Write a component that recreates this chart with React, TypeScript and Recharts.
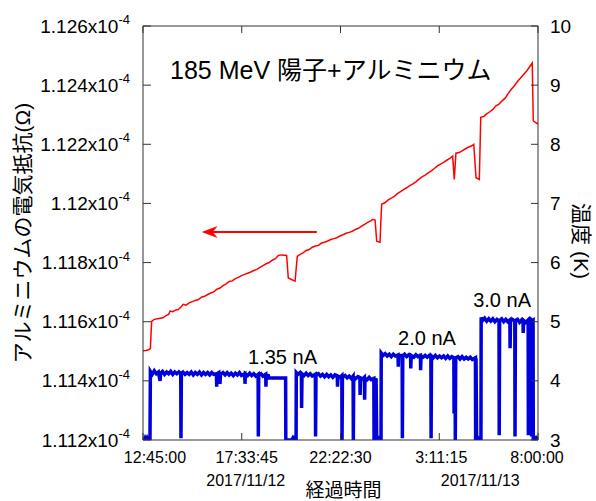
import { LineChart, Line, XAxis, YAxis, ReferenceLine, ReferenceDot } from 'recharts'

const FONT = '"Liberation Sans", Arial, "Noto Sans CJK JP", sans-serif'
const AXIS = '#333'
const RED = '#ff0000'
const BLUE = '#0000dd'

// time in hours after 12:45:00
const TIME_TICKS = [0, 4.8125, 9.625, 14.4375, 19.25]
const TIME_LABELS = ['12:45:00', '17:33:45', '22:22:30', '3:11:15', '8:00:00']
const TIME_DX = [12, 5, 0, 2, -1]
const DATE_LABELS = ['', '2017/11/12', '', '2017/11/13', '']
const DATE_DX = [0, 4, 0, 41, 0]

// resistance, units of 1e-4 ohm
const RES_TICKS = [1.112, 1.114, 1.116, 1.118, 1.12, 1.122, 1.124, 1.126]
const TEMP_TICKS = [3, 4, 5, 6, 7, 8, 9, 10]

const RES_TIME = [
  0, 0.15, 0.3, 0.36, 0.42, 0.55, 0.7, 0.85, 1.0, 1.1, 1.25, 1.32, 1.45, 1.6, 1.72, 1.85, 1.96, 2.1, 2.25, 2.4,
  2.55, 2.7, 2.85, 3.0, 3.15, 3.3, 3.45, 3.6, 3.75, 3.9, 4.05, 4.2, 4.35, 4.5, 4.65, 4.8, 4.95, 5.1, 5.25, 5.4,
  5.55, 5.7, 5.85, 6.0, 6.15, 6.3, 6.45, 6.6, 6.75, 6.9, 7.0, 7.08, 7.41, 7.52, 7.65, 7.8, 7.95, 8.1, 8.25, 8.4,
  8.55, 8.7, 8.85, 9.0, 9.15, 9.3, 9.45, 9.6, 9.75, 9.9, 10.05, 10.2, 10.35, 10.5, 10.65, 10.8, 10.95, 11.1, 11.2, 11.31,
  11.39, 11.55, 11.63, 11.8, 11.95, 12.1, 12.25, 12.4, 12.55, 12.7, 12.85, 13.0, 13.15, 13.3, 13.45, 13.6, 13.75, 13.9, 14.05, 14.2,
  14.35, 14.5, 14.65, 14.8, 14.95, 15.09, 15.17, 15.25, 15.4, 15.55, 15.7, 15.85, 16.0, 16.12, 16.23, 16.39, 16.46, 16.6, 16.75, 16.9,
  17.05, 17.2, 17.35, 17.5, 17.65, 17.8, 17.95, 18.1, 18.25, 18.4, 18.55, 18.7, 18.85, 18.97, 19.02, 19.25,
]
const RES_VALUE = [
  1.11502, 1.11503, 1.11506, 1.1151, 1.11601, 1.11608, 1.1161, 1.11612, 1.11614, 1.1162, 1.11625, 1.11636, 1.11634, 1.1164, 1.11641, 1.1165, 1.11659, 1.11656, 1.11664, 1.11668,
  1.11672, 1.11675, 1.11683, 1.11686, 1.11692, 1.11697, 1.11701, 1.1171, 1.11714, 1.11722, 1.11728, 1.11736, 1.11738, 1.11746, 1.1175, 1.11756, 1.1176, 1.11764, 1.11768, 1.11773,
  1.11777, 1.11784, 1.1179, 1.11796, 1.118, 1.11808, 1.11813, 1.11824, 1.11826, 1.11825, 1.11824, 1.11748, 1.11737, 1.11821, 1.11828, 1.11833, 1.11841, 1.11844, 1.11852, 1.11856,
  1.11858, 1.11866, 1.11869, 1.11873, 1.11878, 1.11881, 1.11884, 1.1189, 1.11894, 1.11899, 1.11902, 1.11906, 1.11912, 1.11916, 1.11923, 1.11929, 1.11936, 1.11941, 1.11946, 1.11944,
  1.11872, 1.11869, 1.11997, 1.12003, 1.12012, 1.12018, 1.12024, 1.12033, 1.1204, 1.12047, 1.12053, 1.1206, 1.12066, 1.12073, 1.12082, 1.1209, 1.12096, 1.12103, 1.1211, 1.12118,
  1.12127, 1.12133, 1.12139, 1.12146, 1.12152, 1.1216, 1.12081, 1.1217, 1.12172, 1.12178, 1.12184, 1.1219, 1.12194, 1.122, 1.12087, 1.12081, 1.12291, 1.12294, 1.12303, 1.1231,
  1.12318, 1.1233, 1.12336, 1.12347, 1.12356, 1.12372, 1.12386, 1.12398, 1.12412, 1.12424, 1.12436, 1.12448, 1.12463, 1.12475, 1.12279, 1.12268,
]

const TEMP_TIME = [
  0, 0.05, 0.1, 0.15, 0.2, 0.25, 0.3, 0.34,
  0.36, 0.45, 0.55, 0.65, 0.75, 0.83, 0.86, 0.95, 1.05, 1.15, 1.25, 1.35, 1.45, 1.55, 1.65, 1.75, 1.84, 1.85, 1.87, 1.95,
  2.05, 2.15, 2.25, 2.35, 2.45, 2.55, 2.65, 2.75, 2.85, 2.95, 3.05, 3.15, 3.25, 3.35, 3.45, 3.58, 3.59, 3.61, 3.7, 3.75,
  3.78, 3.9, 4.0, 4.1, 4.2, 4.3, 4.4, 4.5, 4.6, 4.7, 4.8, 4.96, 4.97, 4.99, 5.1, 5.2, 5.3, 5.4, 5.5, 5.61, 5.62, 5.64,
  5.75, 5.85, 5.98, 5.99, 6.01, 6.11, 6.12, 6.95, 6.96, 7.25, 7.3, 7.35, 7.4, 7.46,
  7.47, 7.55, 7.65, 7.72, 7.73, 7.75, 7.85, 7.95, 8.05, 8.15, 8.25, 8.4, 8.41, 8.43, 8.55, 8.65, 8.75, 8.85, 8.95, 9.05,
  9.15, 9.25, 9.35, 9.47, 9.48, 9.5, 9.6, 9.69, 9.7, 9.72, 9.85, 9.95, 10.05, 10.15, 10.24, 10.25, 10.27, 10.37, 10.47, 10.57,
  10.58, 10.6, 10.7, 10.79, 10.8, 10.82, 10.92, 11.02, 11.12, 11.25, 11.26, 11.28, 11.36, 11.39, 11.45, 11.5, 11.55, 11.6,
  11.61, 11.7, 11.8, 11.9, 12.0, 12.1, 12.2, 12.3, 12.43, 12.44, 12.46, 12.63, 12.64, 12.66, 12.75, 12.85, 12.95, 13.04, 13.05, 13.07,
  13.2, 13.3, 13.4, 13.52, 13.53, 13.55, 13.65, 13.75, 13.85, 13.95, 14.03, 14.04, 14.06, 14.15, 14.25, 14.35, 14.45, 14.55, 14.65, 14.75,
  14.85, 14.95, 15.05, 15.15, 15.16, 15.18, 15.21, 15.22, 15.24, 15.35, 15.45, 15.55, 15.65, 15.75, 15.85, 15.95, 16.05, 16.2, 16.21, 16.23,
  16.26, 16.32, 16.38, 16.43, 16.47,
  16.48, 16.55, 16.65, 16.75, 16.85, 16.95, 17.05, 17.15, 17.25, 17.35, 17.36, 17.38, 17.48, 17.58, 17.68, 17.78, 17.88, 17.89, 17.91, 18.0,
  18.12, 18.13, 18.15, 18.25, 18.35, 18.45, 18.52, 18.53, 18.55, 18.65, 18.77, 18.78, 18.8, 18.88, 18.93, 18.94, 18.96, 19.01, 19.02, 19.08,
  19.13, 19.18, 19.25,
]
const TEMP_VALUE = [
  3.02, 2.99, 3.03, 2.99, 3.03, 2.99, 3.02, 3.0,
  4.16, 4.11, 4.17, 4.12, 4.15, 4.0, 4.13, 4.16, 4.11, 4.15, 4.12, 4.16, 4.11, 4.15, 4.12, 4.15, 4.12, 3.03, 4.13, 4.15,
  4.11, 4.14, 4.11, 4.15, 4.1, 4.14, 4.11, 4.15, 4.1, 4.14, 4.11, 4.14, 4.1, 4.14, 4.11, 4.12, 3.9, 4.12, 4.14, 3.95,
  4.11, 4.14, 4.1, 4.14, 4.1, 4.13, 4.09, 4.13, 4.1, 4.14, 4.09, 4.12, 3.95, 4.12, 4.09, 4.13, 4.09, 4.12, 4.08, 4.11, 3.06, 4.1,
  4.12, 4.08, 4.11, 3.9, 4.1, 4.09, 4.05, 4.05, 3.0, 3.0, 3.03, 2.99, 3.03, 3.0,
  4.14, 4.11, 4.14, 4.1, 3.54, 4.12, 4.09, 4.13, 4.09, 4.12, 4.08, 4.11, 3.06, 4.1, 4.12, 4.08, 4.11, 4.07, 4.11, 4.07,
  4.1, 4.06, 4.1, 4.07, 3.9, 4.08, 4.06, 4.09, 3.0, 4.06, 4.09, 4.05, 4.08, 4.04, 4.08, 3.0, 4.06, 4.04, 4.07, 4.05,
  3.76, 4.05, 4.03, 4.06, 3.68, 4.04, 4.02, 4.06, 4.02, 4.04, 3.0, 4.03, 4.02, 3.0, 3.03, 2.99, 3.03, 3.0,
  4.47, 4.43, 4.46, 4.42, 4.45, 4.41, 4.45, 4.42, 4.44, 4.24, 4.43, 4.43, 3.03, 4.42, 4.45, 4.41, 4.44, 4.41, 4.21, 4.43,
  4.4, 4.44, 4.41, 4.43, 4.18, 4.42, 4.4, 4.43, 4.4, 4.43, 4.41, 3.03, 4.42, 4.39, 4.43, 4.39, 4.42, 4.39, 4.42, 4.38,
  4.42, 4.38, 4.41, 4.39, 3.45, 4.38, 4.4, 3.0, 4.39, 4.41, 4.37, 4.41, 4.37, 4.4, 4.37, 4.4, 4.36, 4.39, 3.0, 4.38,
  3.0, 3.03, 2.99, 3.03, 3.0,
  5.07, 5.02, 5.06, 5.01, 5.05, 5.01, 5.05, 5.0, 5.04, 5.01, 3.08, 5.02, 5.05, 5.0, 5.04, 5.0, 5.03, 4.55, 5.02, 5.04,
  5.01, 3.06, 5.02, 5.04, 4.99, 5.03, 5.0, 4.81, 5.02, 4.99, 5.03, 3.08, 5.01, 5.04, 5.0, 3.06, 5.02, 5.03, 3.0, 3.03,
  2.99, 3.03, 3.0,
]

// annotations: text, time (h), temperature (K)
const NOTE_TEXT = ['1.35 nA', '2.0 nA', '3.0 nA']
const NOTE_TIME = [6.8, 13.84, 17.5]
const NOTE_TEMP = [4.4, 4.73, 5.36]

const TITLE = '185 MeV 陽子+アルミニウム'

const resData = RES_TIME.map((h, i) => ({ h, r: RES_VALUE[i] }))
const tempData = TEMP_TIME.map((h, i) => ({ h, t: TEMP_VALUE[i] }))

function ResTick(props: any) {
  const { x, y, payload } = props
  const v = parseFloat(Number(payload.value).toFixed(3))
  return (
    <g>
      <line x1={x} y1={y} x2={x + 8} y2={y} stroke={AXIS} />
      <text x={x - 13} y={y + 6.5} textAnchor="end" fontSize={19} fill="#000" fontFamily={FONT}>
        {`${v}x10`}
        <tspan dy={-8.5} fontSize={13}>-4</tspan>
      </text>
    </g>
  )
}

function TempTick(props: any) {
  const { x, y, payload } = props
  return (
    <g>
      <line x1={x} y1={y} x2={x - 7} y2={y} stroke={AXIS} />
      <text x={x + 12} y={y + 6.5} textAnchor="start" fontSize={19} fill="#000" fontFamily={FONT}>
        {payload.value}
      </text>
    </g>
  )
}

function TimeTick(props: any) {
  const { x, y, payload } = props
  const i = TIME_TICKS.indexOf(payload.value)
  return (
    <g>
      <line x1={x} y1={y} x2={x} y2={y - 7} stroke={AXIS} />
      <text x={x + TIME_DX[i]} y={y + 23} textAnchor="middle" fontSize={16} fill="#000" fontFamily={FONT}>
        {TIME_LABELS[i]}
      </text>
      {DATE_LABELS[i] && (
        <text x={x + DATE_DX[i]} y={y + 46} textAnchor="middle" fontSize={16} fill="#000" fontFamily={FONT}>
          {DATE_LABELS[i]}
        </text>
      )}
    </g>
  )
}

function TopTick(props: any) {
  const { x, y } = props
  return <line x1={x} y1={y} x2={x} y2={y + 7} stroke={AXIS} />
}

const leftTitle = ({ viewBox }: any) => {
  const cx = viewBox.x + 22
  const cy = viewBox.y + viewBox.height / 2
  return (
    <text x={cx} y={cy} transform={`rotate(-90 ${cx} ${cy})`} textAnchor="middle" dominantBaseline="central"
      fontSize={21} fill="#000" fontFamily={FONT}>アルミニウムの電気抵抗(Ω)</text>
  )
}

const rightTitle = ({ viewBox }: any) => {
  const cx = viewBox.x + 43
  const cy = viewBox.y + viewBox.height / 2 + 8
  return (
    <text x={cx} y={cy} transform={`rotate(90 ${cx} ${cy})`} textAnchor="middle" dominantBaseline="central"
      fontSize={21} fill="#000" fontFamily={FONT}>温度 (K)</text>
  )
}

const bottomTitle = ({ viewBox }: any) => {
  const cx = viewBox.x + viewBox.width / 2 + 3
  const cy = viewBox.y + 50
  return (
    <text x={cx} y={cy} textAnchor="middle" dominantBaseline="central" fontSize={19} fill="#000" fontFamily={FONT}>
      経過時間
    </text>
  )
}

const noteLabel = (text: string, size: number) => ({ viewBox }: any) => (
  <text x={viewBox.x + viewBox.width / 2} y={viewBox.y + viewBox.height / 2} textAnchor="middle"
    dominantBaseline="central" fontSize={size} fill="#000" fontFamily={FONT}>{text}</text>
)

const arrowShape = (p: any) => {
  const tip = Math.min(p.x1, p.x2)
  const end = Math.max(p.x1, p.x2)
  const y = p.y1
  return (
    <g>
      <line x1={end} y1={y} x2={tip + 8} y2={y} stroke={RED} strokeWidth={2} />
      <path d={`M${tip},${y} L${tip + 16},${y - 6} L${tip + 11},${y} L${tip + 16},${y + 6} Z`} fill={RED} />
    </g>
  )
}

export default function App() {
  return (
    <div style={{ position: 'absolute', left: 0, top: 0, width: 596, height: 501, background: '#fff', fontFamily: FONT }}>
      <LineChart width={596} height={501} margin={{ top: 16, right: 0, bottom: 0, left: 0 }}>
        <XAxis xAxisId="bottom" dataKey="h" type="number" domain={[0, 19.25]} ticks={TIME_TICKS} allowDataOverflow
          interval={0} height={61} stroke={AXIS} tickLine={false} tickSize={0} tickMargin={0} tick={<TimeTick />}
          label={{ content: bottomTitle }} />
        <XAxis xAxisId="top" orientation="top" dataKey="h" type="number" domain={[0, 19.25]} ticks={TIME_TICKS}
          allowDataOverflow interval={0} height={10} stroke={AXIS} tickLine={false} tickSize={0} tickMargin={0}
          tick={<TopTick />} />
        <YAxis yAxisId="res" type="number" domain={[1.112, 1.126]} ticks={RES_TICKS} allowDataOverflow interval={0}
          width={143} stroke={AXIS} tickLine={false} tickSize={0} tickMargin={0} tick={<ResTick />}
          label={{ content: leftTitle }} />
        <YAxis yAxisId="temp" orientation="right" type="number" domain={[3, 10]} ticks={TEMP_TICKS} allowDataOverflow
          interval={0} width={58} stroke={AXIS} tickLine={false} tickSize={0} tickMargin={0} tick={<TempTick />}
          label={{ content: rightTitle }} />
        <Line xAxisId="bottom" yAxisId="temp" data={tempData} dataKey="t" stroke={BLUE} strokeWidth={3.5}
          dot={false} isAnimationActive={false} />
        <Line xAxisId="bottom" yAxisId="res" data={resData} dataKey="r" stroke={RED} strokeWidth={1.5}
          dot={false} isAnimationActive={false} />
        <ReferenceLine xAxisId="bottom" yAxisId="res" segment={[{ x: 2.86, y: 1.11903 }, { x: 8.47, y: 1.11903 }]}
          shape={arrowShape} />
        <ReferenceDot xAxisId="bottom" yAxisId="res" x={9.15} y={1.1245} r={0} fill="none" stroke="none"
          label={{ content: noteLabel(TITLE, 25) }} />
        {NOTE_TEXT.map((t, i) => (
          <ReferenceDot key={t} xAxisId="bottom" yAxisId="temp" x={NOTE_TIME[i]} y={NOTE_TEMP[i]} r={0}
            fill="none" stroke="none" label={{ content: noteLabel(t, 20) }} />
        ))}
      </LineChart>
    </div>
  )
}
